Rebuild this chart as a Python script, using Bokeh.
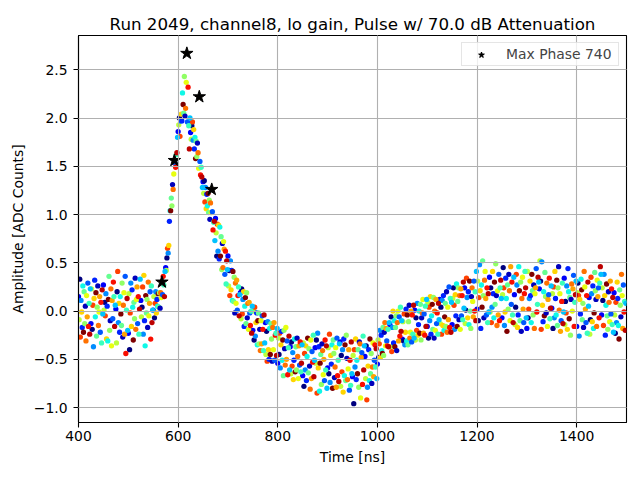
import numpy as np
from bokeh.plotting import figure
from bokeh.models import ColumnDataSource, FixedTicker, Range1d
from bokeh.embed import file_html
from bokeh.resources import INLINE


## data ##

title_text = "Run 2049, channel8, lo gain, Pulse w/ 70.0 dB Attenuation"

# 25 ns ADC samples, each phase shifted by a fraction of a sample
sample_start_ns = [400, 425, 450, 475, 500, 525, 550, 575, 600, 625, 650,
                   675, 700, 725, 750, 775, 800, 825, 850, 875, 900, 925,
                   950, 975, 1000, 1025, 1050, 1075, 1100, 1125, 1150, 1175,
                   1200, 1225, 1250, 1275, 1300, 1325, 1350, 1375, 1400, 1425,
                   1450, 1475]
phase_offset_ns = [0.0, 1.25, 2.5, 3.75, 5.0, 6.25, 7.5, 8.75, 10.0, 11.25,
                   12.5, 13.75, 15.0, 16.25, 17.5, 18.75, 20.0, 21.25, 22.5, 23.75]
# position of each phase on the colour map (0..19)
phase_colour_rank = [2, 11, 0, 16, 5, 13, 3, 7, 19, 9, 10, 1, 15, 12, 14, 4, 17, 8, 18, 6]

phase_00 = [0.15, -0.13, 0.27, 0.02, -0.23, 0.11,
            0.01, 0.45, 1.86, 1.85, 1.34, 0.96, 0.57,
            0.19, -0.20, -0.12, -0.54, -0.37, -0.67, -0.38, -0.59, -0.32, -0.68, -0.47,
            -0.55, -0.14, -0.29, 0.01, -0.16, 0.12, -0.14, 0.24,
            0.02, 0.35, -0.07, 0.17, -0.18, 0.23, 0.03, 0.34, -0.16, 0.14, -0.04, 0.19]
phase_01 = [-0.09, 0.23, 0.01, -0.33, 0.18, -0.06,
            0.15, 0.42, 1.93, 1.78, 1.22, 0.81, 0.26,
            -0.08, 0.00, -0.45, -0.28, -0.65, -0.33, -0.54, -0.38, -0.78, -0.46, -0.70,
            -0.30, -0.37, -0.11, -0.30, 0.09, -0.13, 0.13, -0.13,
            0.31, -0.01, 0.17, -0.14, 0.41, 0.52, 0.18, -0.14, 0.19, -0.24, 0.24, -0.04]
phase_02 = [0.33, -0.19, 0.09, 0.20, -0.40, 0.04,
            -0.07, 0.55, 2.00, 1.92, 1.35, 0.57, 0.42,
            0.23, -0.30, -0.21, -0.45, -0.32, -0.78, -0.30, -0.65, -0.46, -0.96, -0.36,
            -0.48, -0.06, -0.31, -0.07, -0.28, 0.04, 0.24, 0.01,
            -0.10, 0.24, 0.45, 0.04, -0.07, 0.31, -0.18, 0.10, 0.29, -0.09, 0.11, -0.23]
phase_03 = [-0.27, 0.06, -0.05, 0.41, -0.02, 0.25,
            0.08, 0.65, 1.81, 1.96, 1.13, 0.90, 0.16,
            -0.03, 0.04, -0.52, -0.23, -0.57, -0.44, -0.85, -0.24, -0.63, -0.40, -0.92,
            -0.34, -0.42, -0.03, -0.20, 0.04, -0.24, 0.06, 0.34,
            0.14, -0.12, 0.24, 0.38, 0.02, -0.19, 0.25, -0.02, 0.16, 0.35, -0.15, 0.09]
phase_04 = [0.11, -0.37, 0.18, -0.12, 0.29, -0.24,
            0.20, 0.60, 1.97, 1.77, 1.28, 0.62, 0.52,
            0.12, -0.26, -0.11, -0.59, -0.43, -0.61, -0.23, -0.74, -0.40, -0.58, -0.79,
            -0.20, -0.17, -0.35, 0.08, -0.10, 0.11, -0.19, 0.14,
            0.48, 0.04, -0.15, 0.27, 0.13, 0.51, -0.07, 0.26, -0.26, 0.18, 0.38, -0.12]
phase_05 = [-0.01, 0.13, -0.29, 0.08, -0.16, 0.37,
            -0.02, 0.68, 2.04, 1.88, 1.06, 0.89, 0.22,
            0.20, -0.12, -0.40, -0.35, -0.71, -0.36, -0.59, -0.46, -0.84, -0.29, -0.57,
            -0.48, 0.00, -0.22, -0.25, 0.15, -0.15, 0.17, -0.07,
            0.21, 0.41, -0.01, -0.17, 0.31, 0.06, 0.41, -0.19, 0.12, -0.11, 0.16, 0.30]
phase_06 = [-0.17, 0.32, 0.05, -0.22, 0.22, -0.10,
            0.12, 0.93, 1.97, 1.68, 1.21, 0.54, 0.42,
            -0.16, -0.02, -0.50, -0.21, -0.51, -0.72, -0.37, -0.55, -0.29, -0.71, -0.40,
            -0.25, -0.33, 0.02, -0.14, -0.24, 0.16, -0.05, 0.20,
            -0.18, 0.18, 0.34, -0.04, 0.16, -0.11, 0.13, 0.44, -0.03, 0.26, -0.25, 0.13]
phase_07 = [0.26, -0.06, -0.31, 0.15, 0.04, -0.36,
            0.05, 1.04, 2.26, 1.80, 1.09, 0.87, 0.11,
            0.05, -0.35, -0.18, -0.51, -0.29, -0.47, -0.83, -0.35, -0.67, -0.51, -0.72,
            -0.41, -0.10, -0.31, 0.00, -0.05, -0.20, 0.28, -0.14,
            0.27, -0.07, 0.13, 0.46, -0.12, 0.20, -0.04, 0.20, 0.33, -0.18, 0.06, -0.15]
phase_08 = [-0.22, 0.19, 0.12, -0.03, -0.30, 0.16,
            0.18, 1.04, 2.14, 1.58, 1.22, 0.57, 0.41,
            0.14, -0.10, -0.45, -0.30, -0.63, -0.28, -0.54, -0.80, -0.35, -0.65, -0.29,
            -0.44, -0.37, -0.04, -0.23, 0.07, -0.06, -0.16, 0.31,
            0.04, 0.30, -0.21, 0.21, 0.38, -0.05, 0.32, -0.08, 0.22, -0.02, 0.28, -0.29]
phase_09 = [0.20, -0.26, 0.36, -0.15, 0.09, -0.02,
            0.04, 1.17, 2.05, 1.76, 1.02, 0.77, 0.10,
            -0.13, -0.02, -0.13, -0.67, -0.37, -0.64, -0.45, -0.30, -0.72, -0.40, -0.65,
            -0.17, -0.17, -0.35, 0.07, -0.19, 0.08, 0.10, 0.00,
            0.52, 0.07, 0.27, -0.10, 0.21, 0.40, -0.15, 0.14, -0.09, 0.40, -0.05, 0.22]
phase_10 = [-0.13, 0.04, -0.20, 0.29, -0.08, 0.12,
            0.19, 1.09, 2.43, 1.60, 1.15, 0.43, 0.35,
            0.19, -0.34, -0.29, -0.20, -0.61, -0.39, -0.76, -0.44, -0.25, -0.79, -0.44,
            -0.46, -0.05, -0.11, -0.30, 0.14, -0.16, 0.24, -0.18,
            0.16, 0.49, 0.02, 0.30, -0.04, 0.15, 0.24, -0.25, 0.08, 0.21, -0.19, 0.06]
phase_11 = [0.05, 0.26, -0.10, -0.27, 0.34, -0.17,
            0.03, 1.31, 2.02, 1.74, 0.95, 0.70, -0.02,
            -0.07, -0.19, -0.52, -0.39, -0.28, -0.57, -0.34, -0.69, -0.49, -0.32, -0.75,
            -0.22, -0.41, 0.06, -0.07, -0.28, 0.20, -0.09, 0.15,
            -0.07, 0.16, 0.38, -0.21, 0.27, -0.02, 0.46, 0.12, -0.17, 0.12, 0.20, -0.06]
phase_12 = [-0.31, -0.15, 0.23, 0.06, -0.19, 0.30,
            0.19, 1.26, 2.10, 1.64, 1.12, 0.45, 0.29,
            0.08, -0.41, -0.17, -0.56, -0.47, -0.81, -0.41, -0.58, -0.71, -0.34, -0.58,
            -0.12, -0.12, -0.28, -0.02, 0.00, -0.22, 0.16, 0.24,
            0.32, -0.15, 0.21, 0.13, -0.18, 0.29, 0.01, 0.28, 0.41, -0.16, 0.09, 0.38]
phase_13 = [0.16, -0.01, -0.36, 0.19, 0.12, -0.05,
            0.14, 1.42, 2.37, 1.48, 1.02, 0.72, 0.08,
            -0.19, -0.10, -0.40, -0.17, -0.70, -0.30, -0.66, -0.38, -0.60, -0.90, -0.33,
            -0.36, 0.00, -0.22, 0.12, -0.20, 0.04, -0.19, 0.10,
            0.41, 0.21, -0.10, 0.35, 0.18, -0.16, 0.18, 0.00, 0.25, 0.32, -0.11, 0.16]
phase_14 = [-0.06, 0.15, 0.11, -0.24, 0.25, 0.08,
            0.30, 1.56, 2.67, 2.22, 1.26, 0.64, 0.32,
            0.09, -0.34, -0.12, -0.50, -0.36, -0.70, -0.50, -0.79, -0.40, -0.48, -0.68,
            -0.18, -0.31, 0.00, -0.23, 0.12, -0.09, 0.23, -0.06,
            0.13, -0.04, 0.46, 0.02, 0.24, 0.12, -0.21, 0.23, 0.02, 0.15, 0.31, -0.18]
phase_15 = [0.29, -0.22, -0.08, 0.36, -0.13, 0.20,
            0.17, 1.53, 1.96, 1.55, 1.03, 0.38, 0.01,
            -0.02, -0.05, -0.51, -0.31, -0.56, -0.42, -0.72, -0.28, -0.82, -0.43, -0.51,
            -0.31, -0.06, -0.32, -0.03, -0.13, 0.25, -0.05, 0.31,
            -0.04, 0.38, 0.07, -0.12, 0.44, 0.17, -0.10, 0.37, -0.12, 0.24, -0.03, 0.27]
phase_16 = [-0.16, 0.09, 0.30, -0.44, 0.15, -0.29,
            0.36, 1.49, 2.32, 1.41, 0.84, 0.62, 0.16,
            -0.15, -0.19, -0.25, -0.66, -0.32, -0.53, -0.30, -0.67, -0.51, -0.76, -0.35,
            -0.36, -0.26, -0.04, -0.25, -0.02, -0.17, 0.16, 0.00,
            0.24, -0.10, 0.30, 0.18, -0.01, 0.34, 0.10, -0.16, 0.16, -0.07, 0.23, -0.01]
phase_17 = [0.08, -0.33, 0.15, 0.01, -0.24, 0.26,
            0.27, 1.62, 1.92, 1.49, 0.92, 0.28, 0.25,
            0.00, -0.41, -0.23, -0.38, -0.63, -0.25, -0.61, -0.51, -0.77, -0.26, -0.58,
            -0.19, 0.04, -0.24, 0.05, -0.24, 0.13, -0.09, 0.20,
            -0.12, 0.24, -0.04, 0.41, 0.07, -0.08, 0.29, 0.09, -0.23, 0.29, -0.14, 0.10]
phase_18 = [-0.24, 0.22, -0.16, 0.13, 0.02, -0.12,
            0.15, 1.64, 1.68, 1.39, 0.93, 0.52, -0.05,
            -0.23, -0.04, -0.46, -0.26, -0.54, -0.68, -0.36, -0.73, -0.32, -0.61, -0.39,
            -0.37, -0.21, 0.06, -0.16, 0.08, -0.22, 0.30, -0.10,
            0.18, 0.32, -0.12, 0.24, 0.35, 0.03, -0.13, 0.17, 0.30, 0.46, 0.14, -0.20]
phase_19 = [0.23, -0.03, 0.06, -0.20, 0.33, 0.01,
            0.41, 1.80, 2.00, 1.28, 0.73, 0.43, 0.17,
            0.05, -0.33, -0.18, -0.61, -0.35, -0.51, -0.80, -0.34, -0.65, -0.36, -0.70,
            -0.12, -0.10, -0.28, 0.12, -0.09, 0.09, 0.03, 0.41,
            -0.01, 0.13, 0.35, -0.07, 0.30, 0.26, -0.01, 0.31, 0.05, 0.38, -0.22, 0.08]

phases = [phase_00, phase_01, phase_02, phase_03, phase_04, phase_05, phase_06,
          phase_07, phase_08, phase_09, phase_10, phase_11, phase_12, phase_13,
          phase_14, phase_15, phase_16, phase_17, phase_18, phase_19]

# samples of the max phase around the peak
max_phase_label = "Max Phase 740"
max_phase_t = [567.5, 592.5, 617.5, 642.5, 667.5]
max_phase_adc = [0.30, 1.56, 2.67, 2.22, 1.26]

x_ticks = [400, 600, 800, 1000, 1200, 1400]
y_ticks = [-1.0, -0.5, 0.0, 0.5, 1.0, 1.5, 2.0, 2.5]
y_tick_labels = ["\u22121.0", "\u22120.5", "0.0", "0.5", "1.0", "1.5", "2.0", "2.5"]


def jet(v):
    # matplotlib's jet colour map
    r = np.interp(v, [0, 0.35, 0.66, 0.89, 1], [0, 0, 1, 1, 0.5])
    g = np.interp(v, [0, 0.125, 0.375, 0.64, 0.91, 1], [0, 0, 1, 1, 0, 0])
    b = np.interp(v, [0, 0.11, 0.34, 0.65, 1], [0.5, 1, 1, 0, 0])
    return "#%02x%02x%02x" % (int(r * 255), int(g * 255), int(b * 255))


xs, ys, cs = [], [], []
n_ph = len(phases)
for off, rank, amps in zip(phase_offset_ns, phase_colour_rank, phases):
    col = jet(rank / (n_ph - 1))
    for t0, a in zip(sample_start_ns, amps):
        xs.append(t0 + off)
        ys.append(a)
        cs.append(col)

src = ColumnDataSource({'t': xs, 'adc': ys, 'color': cs})
star_src = ColumnDataSource({'t': max_phase_t, 'adc': max_phase_adc})

font = "DejaVu Sans"

p = figure(width=634, height=470, output_backend="svg", toolbar_location=None,
           x_range=Range1d(400, 1500), y_range=Range1d(-1.155, 2.855),
           min_border_left=78, min_border_right=8, min_border_top=35,
           min_border_bottom=48, title=title_text)

p.scatter(x='t', y='adc', source=src, size=5.3, fill_color='color', line_color=None)
p.scatter(x='t', y='adc', source=star_src, marker="star", size=13,
          fill_color="black", line_color="black", legend_label=max_phase_label)

p.title.align = "center"
p.title.text_font = font
p.title.text_font_size = "16.7px"
p.title.text_font_style = "normal"
p.title.text_color = "black"
p.title.standoff = 4

p.xaxis.ticker = FixedTicker(ticks=x_ticks)
p.yaxis.ticker = FixedTicker(ticks=y_ticks)
p.yaxis.major_label_overrides = dict(zip(y_ticks, y_tick_labels))
p.xaxis.axis_label = "Time [ns]"
p.yaxis.axis_label = "Amplitude [ADC Counts]"

for ax in (p.xaxis[0], p.yaxis[0]):
    ax.major_label_text_font = font
    ax.major_label_text_font_size = "13.9px"
    ax.major_label_text_color = "black"
    ax.axis_label_text_font = font
    ax.axis_label_text_font_size = "13.9px"
    ax.axis_label_text_font_style = "normal"
    ax.axis_label_text_color = "black"
    ax.axis_line_color = "black"
    ax.axis_line_width = 1.1
    ax.major_tick_line_color = "black"
    ax.major_tick_line_width = 1.1
    ax.major_tick_out = 5
    ax.major_tick_in = 0
    ax.minor_tick_out = 0
    ax.minor_tick_in = 0
p.xaxis.major_label_standoff = 3
p.yaxis.major_label_standoff = 6
p.xaxis.axis_label_standoff = 5
p.yaxis.axis_label_standoff = 5

p.grid.grid_line_color = "#b0b0b0"
p.grid.grid_line_width = 1.1
p.grid.level = "guide"
p.outline_line_color = "black"
p.outline_line_width = 1.1
p.outline_line_alpha = 1.0

p.legend.location = "top_right"
p.legend.margin = 7
p.legend.padding = 3
p.legend.spacing = 0
p.legend.glyph_width = 32
p.legend.glyph_height = 15
p.legend.label_standoff = 9
p.legend.label_width = 109
p.legend.label_text_font = font
p.legend.label_text_font_size = "13.9px"
p.legend.border_line_color = "#cccccc"
p.legend.border_line_width = 1
p.legend.background_fill_alpha = 0.8

open("out.html", "w").write(file_html(p, INLINE))
